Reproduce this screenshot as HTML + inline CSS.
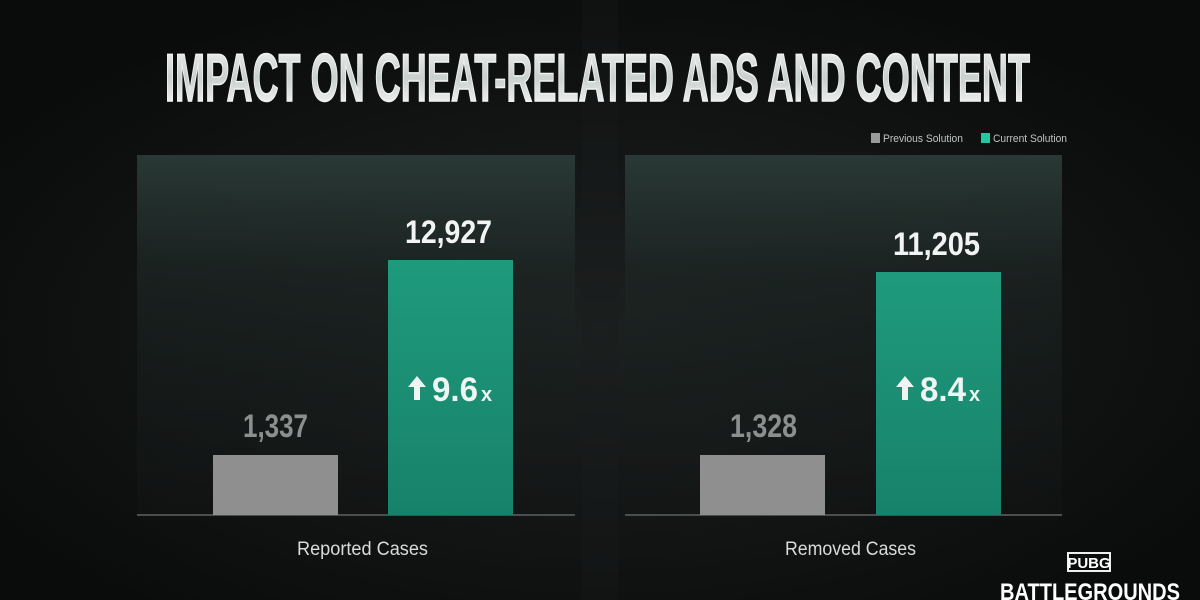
<!DOCTYPE html>
<html><head><meta charset="utf-8"><style>
html,body{margin:0;padding:0;background:#0d0e0e;}
svg{display:block;}
</style></head><body>
<svg width="1200" height="600" viewBox="0 0 1200 600" xmlns="http://www.w3.org/2000/svg">
<defs>
<radialGradient id="bg" cx="0.5" cy="0.55" r="0.6">
<stop offset="0" stop-color="#1c201f"/><stop offset="0.6" stop-color="#121414"/><stop offset="1" stop-color="#0a0b0b"/>
</radialGradient>
<linearGradient id="panel" x1="0" y1="0" x2="0" y2="1">
<stop offset="0" stop-color="#2b3b37" stop-opacity="0.95"/><stop offset="0.35" stop-color="#1c2523" stop-opacity="0.7"/><stop offset="1" stop-color="#131615" stop-opacity="0.4"/>
</linearGradient>
<linearGradient id="title" x1="0" y1="0" x2="0" y2="1">
<stop offset="0" stop-color="#f4f6f5"/><stop offset="0.5" stop-color="#c9d0cd"/><stop offset="1" stop-color="#ffffff"/>
</linearGradient>
<linearGradient id="green" x1="0" y1="0" x2="0" y2="1">
<stop offset="0" stop-color="#1f9a7c"/><stop offset="1" stop-color="#17826a"/>
</linearGradient>
</defs>
<rect width="1200" height="600" fill="url(#bg)"/>
<rect x="582" y="0" width="36" height="600" fill="#1a1e1d" opacity="0.3"/>
<text x="165" y="101" textLength="865" lengthAdjust="spacingAndGlyphs" font-family="Liberation Sans Narrow, Liberation Sans, sans-serif" font-weight="bold" font-size="68" fill="url(#title)" stroke="#f0f2f1" stroke-width="1.5">IMPACT ON CHEAT-RELATED ADS AND CONTENT</text>
<rect x="871" y="133" width="9" height="10" fill="#9a9a9a"/>
<text x="883" y="142" textLength="80" lengthAdjust="spacingAndGlyphs" font-family="Liberation Sans Narrow, Liberation Sans, sans-serif" font-size="11" fill="#bfc4c2">Previous Solution</text>
<rect x="981" y="133" width="9" height="10" fill="#22c9a0"/>
<text x="993" y="142" textLength="74" lengthAdjust="spacingAndGlyphs" font-family="Liberation Sans Narrow, Liberation Sans, sans-serif" font-size="11" fill="#bfc4c2">Current Solution</text>
<rect x="137" y="155" width="438" height="360" fill="url(#panel)"/>
<rect x="625" y="155" width="437" height="360" fill="url(#panel)"/>
<rect x="137" y="514" width="438" height="2" fill="#4a4e4d"/>
<rect x="625" y="514" width="437" height="2" fill="#4a4e4d"/>
<g font-family="Liberation Sans Narrow, Liberation Sans, sans-serif">
<rect x="213" y="455" width="125" height="60" fill="#8f8f8f"/>
<rect x="388" y="260" width="125" height="255" fill="url(#green)"/>
<text x="243" y="437" textLength="65" lengthAdjust="spacingAndGlyphs" font-size="32" font-weight="bold" fill="#8d8f8e">1,337</text>
<text x="405" y="243" textLength="87" lengthAdjust="spacingAndGlyphs" font-size="32" font-weight="bold" fill="#f2f4f3">12,927</text>
<polygon points="417,376 426,387 420,387 420,400 414,400 414,387 408,387" fill="#eef5f2"/>
<text x="432" y="401" textLength="46" lengthAdjust="spacingAndGlyphs" font-size="34" font-weight="bold" fill="#eef5f2">9.6</text>
<text x="481" y="401" font-size="20" font-weight="bold" fill="#eef5f2">x</text>
<text x="297" y="555" textLength="131" lengthAdjust="spacingAndGlyphs" font-size="19" fill="#d8dbda">Reported Cases</text>
<rect x="700" y="455" width="125" height="60" fill="#8f8f8f"/>
<rect x="876" y="272" width="125" height="243" fill="url(#green)"/>
<text x="730" y="437" textLength="67" lengthAdjust="spacingAndGlyphs" font-size="32" font-weight="bold" fill="#8d8f8e">1,328</text>
<text x="893" y="255" textLength="87" lengthAdjust="spacingAndGlyphs" font-size="32" font-weight="bold" fill="#f2f4f3">11,205</text>
<polygon points="905,376 914,387 908,387 908,400 902,400 902,387 896,387" fill="#eef5f2"/>
<text x="920" y="401" textLength="46" lengthAdjust="spacingAndGlyphs" font-size="34" font-weight="bold" fill="#eef5f2">8.4</text>
<text x="969" y="401" font-size="20" font-weight="bold" fill="#eef5f2">x</text>
<text x="785" y="555" textLength="131" lengthAdjust="spacingAndGlyphs" font-size="19" fill="#d8dbda">Removed Cases</text>
<rect x="1068" y="553" width="42" height="18" fill="none" stroke="#eee" stroke-width="2"/>
<text x="1089" y="568" text-anchor="middle" font-size="15" font-weight="bold" fill="#fff">PUBG</text>
<text x="1000" y="600" font-size="24" font-weight="bold" fill="#fff" textLength="180" lengthAdjust="spacingAndGlyphs">BATTLEGROUNDS</text>
</g>
</svg>
</body></html>
